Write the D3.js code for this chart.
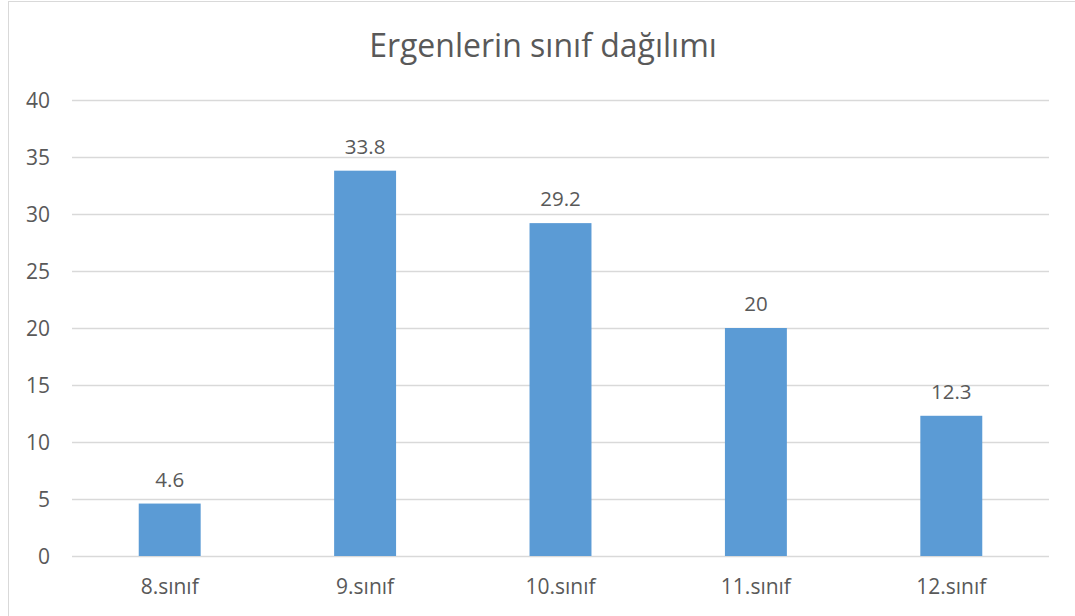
<!DOCTYPE html>
<html>
<head>
<meta charset="utf-8">
<script src="https://cdn.jsdelivr.net/npm/d3@7"></script>
<style>
  body { margin: 0; background: #fff; }
  text { font-family: "Open Sans", "Liberation Sans", sans-serif; fill: #595959; }
</style>
</head>
<body>
<div class="chart"></div>
<script>
var categories = ["8.sınıf", "9.sınıf", "10.sınıf", "11.sınıf", "12.sınıf"];
var values = [4.6, 33.8, 29.2, 20, 12.3];
var valueLabels = ["4.6", "33.8", "29.2", "20", "12.3"];
var yTicks = [0, 5, 10, 15, 20, 25, 30, 35, 40];
var title = "Ergenlerin sınıf dağılımı";

var svgWidth = 1075;
var svgHeight = 616;
var margin = { top: 100, right: 26, bottom: 60, left: 72 };
var width = svgWidth - margin.left - margin.right;
var height = svgHeight - margin.top - margin.bottom;

var svg = d3.select(".chart")
  .append("svg")
    .attr("width", svgWidth)
    .attr("height", svgHeight);

// outer frame
svg.append("rect")
  .attr("x", 8.5)
  .attr("y", 1.5)
  .attr("width", 1200)
  .attr("height", 800)
  .attr("fill", "none")
  .attr("stroke", "#d9d9d9")
  .attr("stroke-width", 1);

svg.append("text")
  .attr("x", 543)
  .attr("y", 57)
  .attr("text-anchor", "middle")
  .style("font-size", "32px")
  .text(title);

var chart = svg.append("g")
  .attr("transform", "translate(" + margin.left + "," + margin.top + ")");

var x = d3.scaleBand().domain(categories).range([0, width]).paddingInner(0.683).paddingOuter(0.3415);
var y = d3.scaleLinear().domain([0, 40]).range([height, 0]);

// gridlines
chart.selectAll(".grid")
  .data(yTicks)
  .enter().append("line")
    .attr("class", "grid")
    .attr("x1", 0)
    .attr("x2", width)
    .attr("y1", function(d) { return Math.round(y(d)) + 0.5; })
    .attr("y2", function(d) { return Math.round(y(d)) + 0.5; })
    .attr("stroke", "#d9d9d9")
    .attr("stroke-width", 1.3);

// y labels
chart.selectAll(".ylab")
  .data(yTicks)
  .enter().append("text")
    .attr("class", "ylab")
    .attr("x", -22)
    .attr("y", function(d) { return y(d); })
    .attr("dy", "0.36em")
    .attr("text-anchor", "end")
    .style("font-size", "21px")
    .text(function(d) { return d; });

var data = categories.map(function(c, i) { return { cat: c, val: values[i], lab: valueLabels[i] }; });

chart.selectAll(".bar")
  .data(data)
  .enter().append("rect")
    .attr("class", "bar")
    .attr("x", function(d) { return x(d.cat); })
    .attr("width", x.bandwidth())
    .attr("y", function(d) { return y(d.val); })
    .attr("height", function(d) { return height - y(d.val); })
    .attr("fill", "#5b9bd5");

chart.selectAll(".vlab")
  .data(data)
  .enter().append("text")
    .attr("class", "vlab")
    .attr("x", function(d) { return x(d.cat) + x.bandwidth() / 2; })
    .attr("y", function(d) { return y(d.val) - 17; })
    .attr("text-anchor", "middle")
    .style("font-size", "20.5px")
    .text(function(d) { return d.lab; });

chart.selectAll(".xlab")
  .data(categories)
  .enter().append("text")
    .attr("class", "xlab")
    .attr("x", function(d) { return x(d) + x.bandwidth() / 2; })
    .attr("y", height + 38)
    .attr("text-anchor", "middle")
    .style("font-size", "21px")
    .text(function(d) { return d; });
</script>
</body>
</html>
